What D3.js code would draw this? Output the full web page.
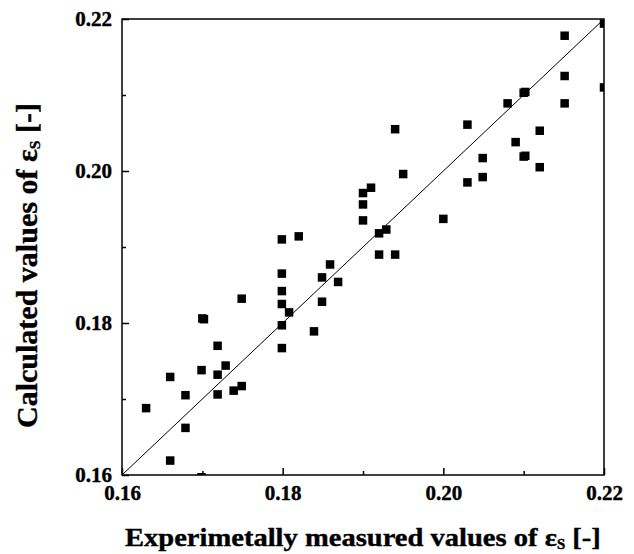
<!DOCTYPE html>
<html>
<head>
<meta charset="utf-8">
<script src="https://cdn.jsdelivr.net/npm/d3@7"></script>
<style>
  html, body { margin: 0; padding: 0; background: #fff; }
  svg { display: block; }
  text { font-family: "Liberation Serif", "Times New Roman", serif; font-weight: bold; fill: #000; }
</style>
</head>
<body>
<svg id="chart" width="634" height="554"></svg>
<script>
// Measured void fraction (x) versus calculated void fraction (y)
const measured = [
  0.1630, 0.1660, 0.1660, 0.1679, 0.1679, 0.1700, 0.1702, 0.1699, 0.1699, 0.1719,
  0.1719, 0.1719, 0.1729, 0.1739, 0.1749, 0.1749, 0.1799, 0.1799, 0.1799, 0.1799,
  0.1799, 0.1799, 0.1808, 0.1820, 0.1839, 0.1849, 0.1849, 0.1859, 0.1869, 0.1900,
  0.1900, 0.1900, 0.1910, 0.1920, 0.1929, 0.1920, 0.1940, 0.1940, 0.1950, 0.2000,
  0.2030, 0.2030, 0.2049, 0.2049, 0.2080, 0.2090, 0.2100, 0.2102, 0.2100, 0.2102,
  0.2120, 0.2120, 0.2151, 0.2151, 0.2151, 0.2200, 0.2200
];
const calculated = [
  0.1688, 0.1729, 0.1619, 0.1705, 0.1662, 0.1806, 0.1805, 0.1738, 0.1597, 0.1770,
  0.1732, 0.1706, 0.1744, 0.1711, 0.1717, 0.1832, 0.1910, 0.1865, 0.1842, 0.1825,
  0.1797, 0.1767, 0.1814, 0.1914, 0.1789, 0.1860, 0.1828, 0.1877, 0.1854, 0.1971,
  0.1956, 0.1935, 0.1978, 0.1918, 0.1923, 0.1890, 0.1890, 0.2055, 0.1996, 0.1937,
  0.2061, 0.1985, 0.2017, 0.1992, 0.2089, 0.2038, 0.2103, 0.2104, 0.2019, 0.2020,
  0.2053, 0.2005, 0.2178, 0.2125, 0.2089, 0.2194, 0.2110
];
const majorTicks = [0.16, 0.18, 0.20, 0.22];
const minorTicks = [0.17, 0.19, 0.21];
const tickLabels = ["0.16", "0.18", "0.20", "0.22"];
const domain = [0.16, 0.22];

const svg = d3.select("#chart");
const plot = { left: 122, top: 19, right: 604, bottom: 475 };

const x = d3.scaleLinear().domain(domain).range([plot.left, plot.right]);
const y = d3.scaleLinear().domain(domain).range([plot.bottom, plot.top]);

svg.append("defs").append("clipPath").attr("id", "plot-clip")
  .append("rect")
  .attr("x", plot.left).attr("y", plot.top)
  .attr("width", plot.right - plot.left).attr("height", plot.bottom - plot.top);

// Parity line y = x
svg.append("line")
  .attr("x1", x(domain[0])).attr("y1", y(domain[0]))
  .attr("x2", x(domain[1])).attr("y2", y(domain[1]))
  .attr("stroke", "#000").attr("stroke-width", 1);

// Data markers
const size = 8.5;
svg.append("g").attr("clip-path", "url(#plot-clip)")
  .selectAll("rect").data(measured.map((m, i) => [m, calculated[i]]))
  .join("rect")
  .attr("x", d => x(d[0]) - size / 2)
  .attr("y", d => y(d[1]) - size / 2)
  .attr("width", size).attr("height", size)
  .attr("fill", "#000");

// Frame
svg.append("rect")
  .attr("x", plot.left).attr("y", plot.top)
  .attr("width", plot.right - plot.left).attr("height", plot.bottom - plot.top)
  .attr("fill", "none").attr("stroke", "#000").attr("stroke-width", 1.5);

function styleTicks(g) {
  g.select(".domain").remove();
  g.selectAll("line").attr("stroke", "#000").attr("stroke-width", 1.5);
  g.selectAll("text")
    .style("font-size", "21px")
    .style("font-family", "'Liberation Serif', serif")
    .style("font-weight", "bold")
    .attr("stroke", "#000").attr("stroke-width", 0.4);
}

// Bottom axis: inward ticks
const gx = svg.append("g").attr("transform", `translate(0,${plot.bottom})`)
  .call(d3.axisBottom(x).tickValues(majorTicks).tickSize(-7).tickPadding(10)
    .tickFormat((d, i) => tickLabels[i]));
styleTicks(gx);
const gxm = svg.append("g").attr("transform", `translate(0,${plot.bottom})`)
  .call(d3.axisBottom(x).tickValues(minorTicks).tickSize(-4).tickFormat(""));
styleTicks(gxm);

// Left axis: inward ticks
const gy = svg.append("g").attr("transform", `translate(${plot.left},0)`)
  .call(d3.axisLeft(y).tickValues(majorTicks).tickSize(-7).tickPadding(10)
    .tickFormat((d, i) => tickLabels[i]));
styleTicks(gy);
const gym = svg.append("g").attr("transform", `translate(${plot.left},0)`)
  .call(d3.axisLeft(y).tickValues(minorTicks).tickSize(-4).tickFormat(""));
styleTicks(gym);

// Axis titles, stretched horizontally to their printed extent
function title(parent, main, fontSize) {
  const t = parent.append("text").attr("font-size", fontSize)
    .attr("stroke", "#000").attr("stroke-width", 0.4);
  t.append("tspan").text(main);
  t.append("tspan").attr("font-size", fontSize * 0.52).attr("dy", 3).text("S");
  t.append("tspan").attr("dy", -3).text(" [-]");
  return t;
}
function fitWidth(t, cx, width) {
  const w = t.node().getBBox().width;
  const s = width / w;
  t.attr("transform", `translate(${cx},0) scale(${s},1) translate(${-w / 2},0)`);
}

const gxt = svg.append("g").attr("transform", "translate(0,546)");
const xTitle = title(gxt, "Experimetally measured values of ε", 26);
fitWidth(xTitle, 363, 476);

const gyt = svg.append("g").attr("transform", "translate(37,0) rotate(-90)");
const yTitle = title(gyt, "Calculated values of ε", 30);
fitWidth(yTitle, -265.5, 325);
</script>
</body>
</html>
